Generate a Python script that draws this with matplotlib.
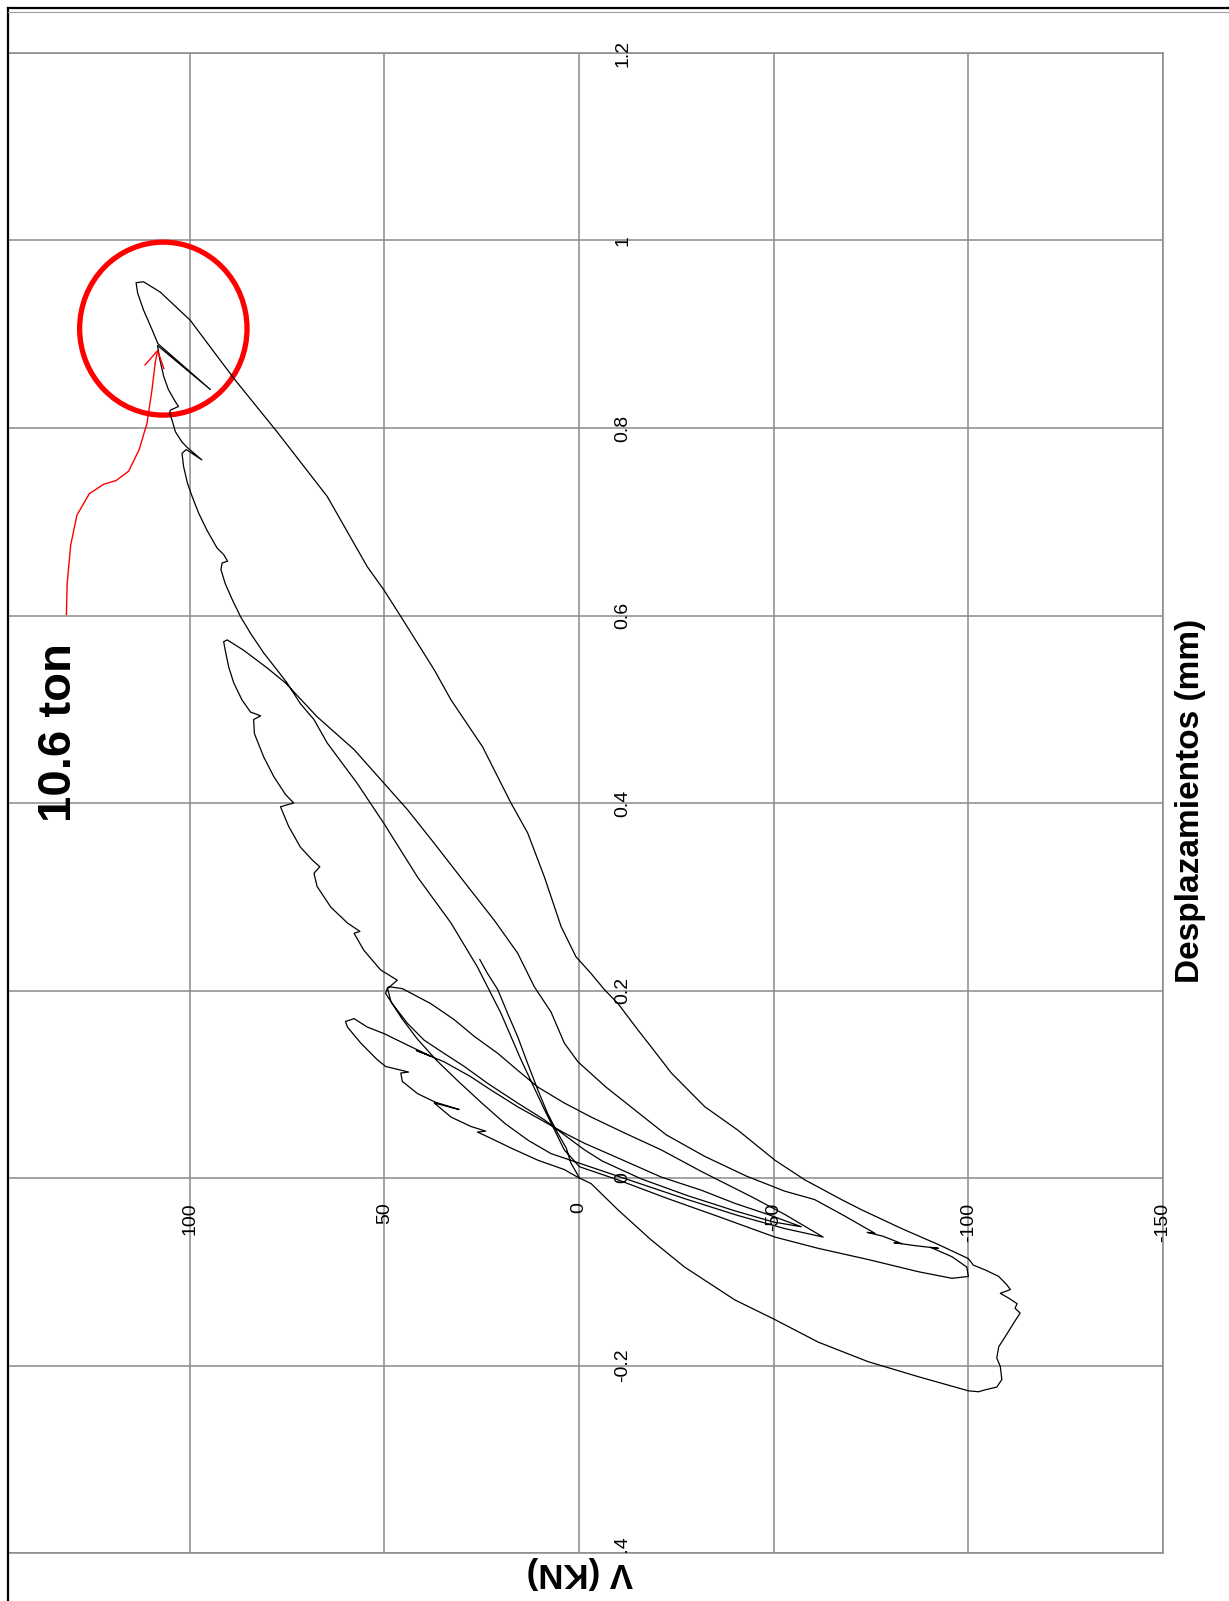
import numpy as np
import matplotlib.pyplot as plt
from matplotlib.patches import Ellipse
from matplotlib.lines import Line2D

plt.rcParams['font.family'] = ['Liberation Sans', 'DejaVu Sans']

# ---- data: V (kN) vs displacement (mm), traced branch by branch ----
# cycle 1 loading (origin -> first peak)
c1_up_v = [0.0, 3.8, 10.6, 17.5, 23.5, 26.1, 24.0, 27.8, 32.9, 37.2, 30.8, 37.0, 41.5,
           45.4, 45.8, 43.8, 49.7, 51.8, 56.1, 59.5, 60.0]
c1_up_d = [0.000, 0.009, 0.019, 0.032, 0.044, 0.049, 0.050, 0.055, 0.065, 0.080, 0.073, 0.081,
           0.090, 0.103, 0.112, 0.113, 0.119, 0.126, 0.144, 0.161, 0.167]
# cycle 1 unloading -> negative peak
c1_dn_v = [60.0, 57.8, 54.4, 50.1, 43.2, 38.1, 41.8, 34.7, 27.8, 22.7, 15.8, 8.9, 3.8, -1.4,
           -9.1, -21.1, -31.4, -40.0, -48.6, -57.1]
c1_dn_d = [0.167, 0.170, 0.161, 0.154, 0.140, 0.130, 0.136, 0.124, 0.108, 0.094, 0.076, 0.060,
           0.048, 0.037, 0.023, 0.001, -0.013, -0.027, -0.039, -0.052]
# back from negative peak, cycle 2 loading
c2_up_v = [-57.1, -50.0, -40.0, -28.0, -16.0, -6.0, -1.4, 3.8, 8.9, 15.8, 23.5, 29.5, 34.7,
           39.8, 44.1, 48.0, 49.7, 49.2]
c2_up_d = [-0.052, -0.047, -0.035, -0.019, -0.001, 0.018, 0.030, 0.046, 0.062, 0.080, 0.101,
           0.119, 0.133, 0.147, 0.165, 0.186, 0.197, 0.203]
c2_dn_v = [49.2, 48.8, 45.4, 38.1, 32.1, 26.9, 20.9, 15.8, 10.6, 3.8, -3.1, -11.7, -21.1,
           -31.4, -44.3, -52.9, -62.7]
c2_dn_d = [0.203, 0.204, 0.202, 0.186, 0.169, 0.151, 0.133, 0.115, 0.097, 0.080, 0.065, 0.048,
           0.030, 0.007, -0.020, -0.039, -0.063]
# back from negative peak, cycle 3 loading (sawtooth up to 3rd peak)
c3_up_v = [-62.7, -52.9, -40.8, -27.1, -14.2, -1.4, 7.2, 13.0, 19.0, 25.0, 31.0, 36.5, 41.5,
           45.5, 48.3, 49.2, 46.7, 51.0, 55.3, 57.8, 56.3, 59.5, 63.8, 67.3, 68.1, 66.6, 68.5,
           71.6, 74.6, 76.7, 73.3, 75.4, 78.4, 81.0, 83.4, 83.6, 81.8, 84.4, 86.6, 88.7, 90.0,
           90.9, 91.3]
c3_up_d = [-0.063, -0.054, -0.040, -0.022, -0.004, 0.014, 0.026, 0.040, 0.058, 0.080, 0.103,
           0.125, 0.148, 0.170, 0.188, 0.202, 0.211, 0.222, 0.243, 0.261, 0.263, 0.272, 0.289,
           0.311, 0.325, 0.332, 0.339, 0.353, 0.375, 0.396, 0.400, 0.409, 0.428, 0.449, 0.474,
           0.489, 0.493, 0.497, 0.510, 0.528, 0.545, 0.563, 0.572]
c3_dn_v = [91.3, 90.4, 86.2, 80.1, 75.4, 67.3, 57.8, 50.1, 44.1, 37.2, 28.6, 21.8, 15.8, 11.5,
           7.2, 3.8, 0.3, -6.9, -14.2, -22.4, -32.3, -43.0, -52.8, -60.5, -68.0, -76.0, -74.0,
           -78.0, -82.9, -80.9, -86.0, -92.3, -90.3, -95.8, -99.6, -100.0]
c3_dn_d = [0.572, 0.574, 0.563, 0.544, 0.528, 0.492, 0.457, 0.421, 0.393, 0.357, 0.311, 0.275,
           0.240, 0.204, 0.177, 0.144, 0.124, 0.097, 0.073, 0.046, 0.023, 0.002, -0.014, -0.023,
           -0.040, -0.059, -0.058, -0.062, -0.070, -0.069, -0.072, -0.075, -0.074, -0.084,
           -0.095, -0.105]
c3_back_v = [-100.0, -95.8, -87.2, -74.3, -61.4, -50.3, -35.7, -22.8, -10.0, -0.1, 3.8]
c3_back_d = [-0.105, -0.107, -0.100, -0.087, -0.075, -0.063, -0.041, -0.022, -0.002, 0.012, 0.030]
# cycle 4 loading up to max (10.6 ton)
c4_up_v = [3.8, 8.9, 14.9, 20.1, 26.1, 32.9, 41.5, 50.1, 57.0, 64.7, 68.1, 71.6, 75.0, 77.6,
           81.0, 84.4, 87.0, 89.1, 90.9, 92.0, 91.7, 90.3, 91.3, 93.0, 95.6, 97.7, 99.4, 100.6,
           101.6, 102.0, 100.9, 96.9, 100.6, 102.0, 103.7, 104.6, 105.2, 105.0, 102.9, 103.7,
           105.5, 106.7, 107.7, 108.3, 94.7, 108.2, 109.7, 111.9, 113.4, 113.8]
c4_up_d = [0.030, 0.073, 0.126, 0.176, 0.225, 0.272, 0.321, 0.378, 0.421, 0.464, 0.489, 0.506,
           0.528, 0.542, 0.560, 0.581, 0.599, 0.617, 0.634, 0.649, 0.656, 0.658, 0.665, 0.672,
           0.691, 0.709, 0.727, 0.741, 0.759, 0.773, 0.777, 0.766, 0.779, 0.785, 0.796, 0.809,
           0.816, 0.819, 0.823, 0.828, 0.841, 0.855, 0.873, 0.888, 0.841, 0.890, 0.905, 0.926,
           0.944, 0.955]
c4_dn_v = [113.8, 111.9, 107.6, 99.9, 88.7, 77.6, 64.7, 54.4, 50.1, 45.8, 37.2, 32.9, 24.8,
           17.5, 13.2, 8.9, 7.2, 4.6, 0.8, -3.1, -6.5, -10.0, -15.1, -18.5, -23.7, -32.3, -40.8,
           -50.3, -58.0, -67.4, -72.6, -82.9, -92.3, -100.0, -101.3, -104.3, -107.8, -109.9,
           -110.8, -108.2, -110.3, -112.5, -112.0, -113.3, -111.6, -109.5, -107.8, -107.3,
           -108.2, -108.6, -107.3, -104.3, -102.6, -100.0]
c4_dn_d = [0.955, 0.956, 0.945, 0.915, 0.853, 0.796, 0.727, 0.652, 0.627, 0.599, 0.542, 0.510,
           0.460, 0.400, 0.368, 0.321, 0.300, 0.268, 0.236, 0.218, 0.201, 0.186, 0.158, 0.140,
           0.112, 0.076, 0.051, 0.019, -0.002, -0.023, -0.034, -0.054, -0.071, -0.086, -0.093,
           -0.098, -0.105, -0.114, -0.119, -0.123, -0.128, -0.134, -0.139, -0.144, -0.155,
           -0.169, -0.180, -0.192, -0.201, -0.215, -0.223, -0.226, -0.228, -0.227]
c4_back_v = [-100.0, -87.2, -74.3, -61.4, -50.3, -40.0, -27.1, -18.5, -10.0, -3.1, -0.1,
             2.1, 3.3, 5.5, 8.1, 10.6, 13.2, 15.8, 18.4, 20.9, 23.5, 25.5]
c4_back_d = [-0.227, -0.212, -0.196, -0.175, -0.151, -0.130, -0.095, -0.066, -0.034, -0.006,
             0.000, 0.016, 0.032, 0.048, 0.069, 0.094, 0.122, 0.151, 0.176, 0.201, 0.218, 0.233]

v_ticks = [100, 50, 0, -50, -100, -150]
v_labels = ['100', '50', '0', '-50', '-100', '-150']
d_ticks = [1.2, 1.0, 0.8, 0.6, 0.4, 0.2, 0.0, -0.2, -0.4]
d_labels = ['1.2', '1', '0.8', '0.6', '0.4', '0.2', '0', '-0.2', '-0.4']

# red arrow + circle marking the peak
arrow_v = [131.7, 131.5, 130.6, 129.0, 125.8, 122.1, 118.9, 115.7, 113.0, 111.0, 109.7, 108.9, 108.2]
arrow_d = [0.601, 0.634, 0.675, 0.707, 0.730, 0.740, 0.744, 0.754, 0.777, 0.805, 0.841, 0.869, 0.884]

V = np.concatenate([c1_up_v, c1_dn_v, c2_up_v, c2_dn_v, c3_up_v, c3_dn_v, c3_back_v,
                    c4_up_v, c4_dn_v, c4_back_v])
D = np.concatenate([c1_up_d, c1_dn_d, c2_up_d, c2_dn_d, c3_up_d, c3_dn_d, c3_back_d,
                    c4_up_d, c4_dn_d, c4_back_d])

W, H = 1229, 1601
fig = plt.figure(figsize=(W / 100, H / 100), dpi=100)
ax = fig.add_axes([8 / W, 48 / H, 1155 / W, 1500 / H])

gcol = '#8a8a8a'
ax.set_xlim(146.7, -150)
ax.set_ylim(-0.4, 1.2)
ax.set_xticks(v_ticks)
ax.set_yticks(d_ticks)
ax.grid(True, color=gcol, lw=1.1)
ax.set_axisbelow(True)
ax.tick_params(length=0, labelbottom=False, labelleft=False)
for s in ['top', 'right', 'bottom']:
    ax.spines[s].set_color(gcol)
    ax.spines[s].set_linewidth(1.1)
ax.spines['left'].set_visible(False)

ax.plot(V, D, color='black', lw=0.9)

# tick labels placed along the axes that cross at the origin
for dv, lab in zip(d_ticks, d_labels):
    ax.text(-9.0, dv, lab, rotation=90, ha='left', va='center', fontsize=14)
for vv, lab in zip(v_ticks, v_labels):
    ax.text(vv, -0.026, lab, rotation=90, ha='center', va='top', fontsize=14)

ax.add_patch(Ellipse((106.8, 0.906), 43.0, 0.1845, fill=False, edgecolor='red', lw=3.8))
ax.plot(arrow_v[:-1], arrow_d[:-1], color='red', lw=1.0)
ax.annotate('', xy=(arrow_v[-1], arrow_d[-1]), xytext=(arrow_v[-2], arrow_d[-2]),
            arrowprops=dict(arrowstyle='->,head_length=0.6,head_width=0.35', color='red',
                            lw=1.0, mutation_scale=20, shrinkA=0, shrinkB=0))
ax.text(133.6, 0.475, '10.6 ton', rotation=90, ha='center', va='center',
        fontsize=34, fontweight='bold')

fig.text(1191 / W, 1 - 801 / H, 'Desplazamientos (mm)', rotation=90, ha='center',
         va='center', fontsize=24, fontweight='bold')
fig.text(580 / W, 1 - 1572 / H, 'V (KN)', rotation=180, ha='center', va='center',
         fontsize=25, fontweight='bold',
         bbox=dict(facecolor='white', edgecolor='none', pad=1), zorder=5)

# outer frame (left and top only)
fig.add_artist(Line2D([8 / W, 8 / W], [0, 1 - 8 / H], transform=fig.transFigure,
                      color='black', lw=1.6))
fig.add_artist(Line2D([8 / W, 1], [1 - 8 / H, 1 - 8 / H], transform=fig.transFigure,
                      color='black', lw=1.6))
fig.add_artist(Line2D([8 / W, 1], [1 - 12 / H, 1 - 12 / H], transform=fig.transFigure,
                      color='#a0a0a0', lw=0.8))

fig.savefig('out.png', dpi=100)
